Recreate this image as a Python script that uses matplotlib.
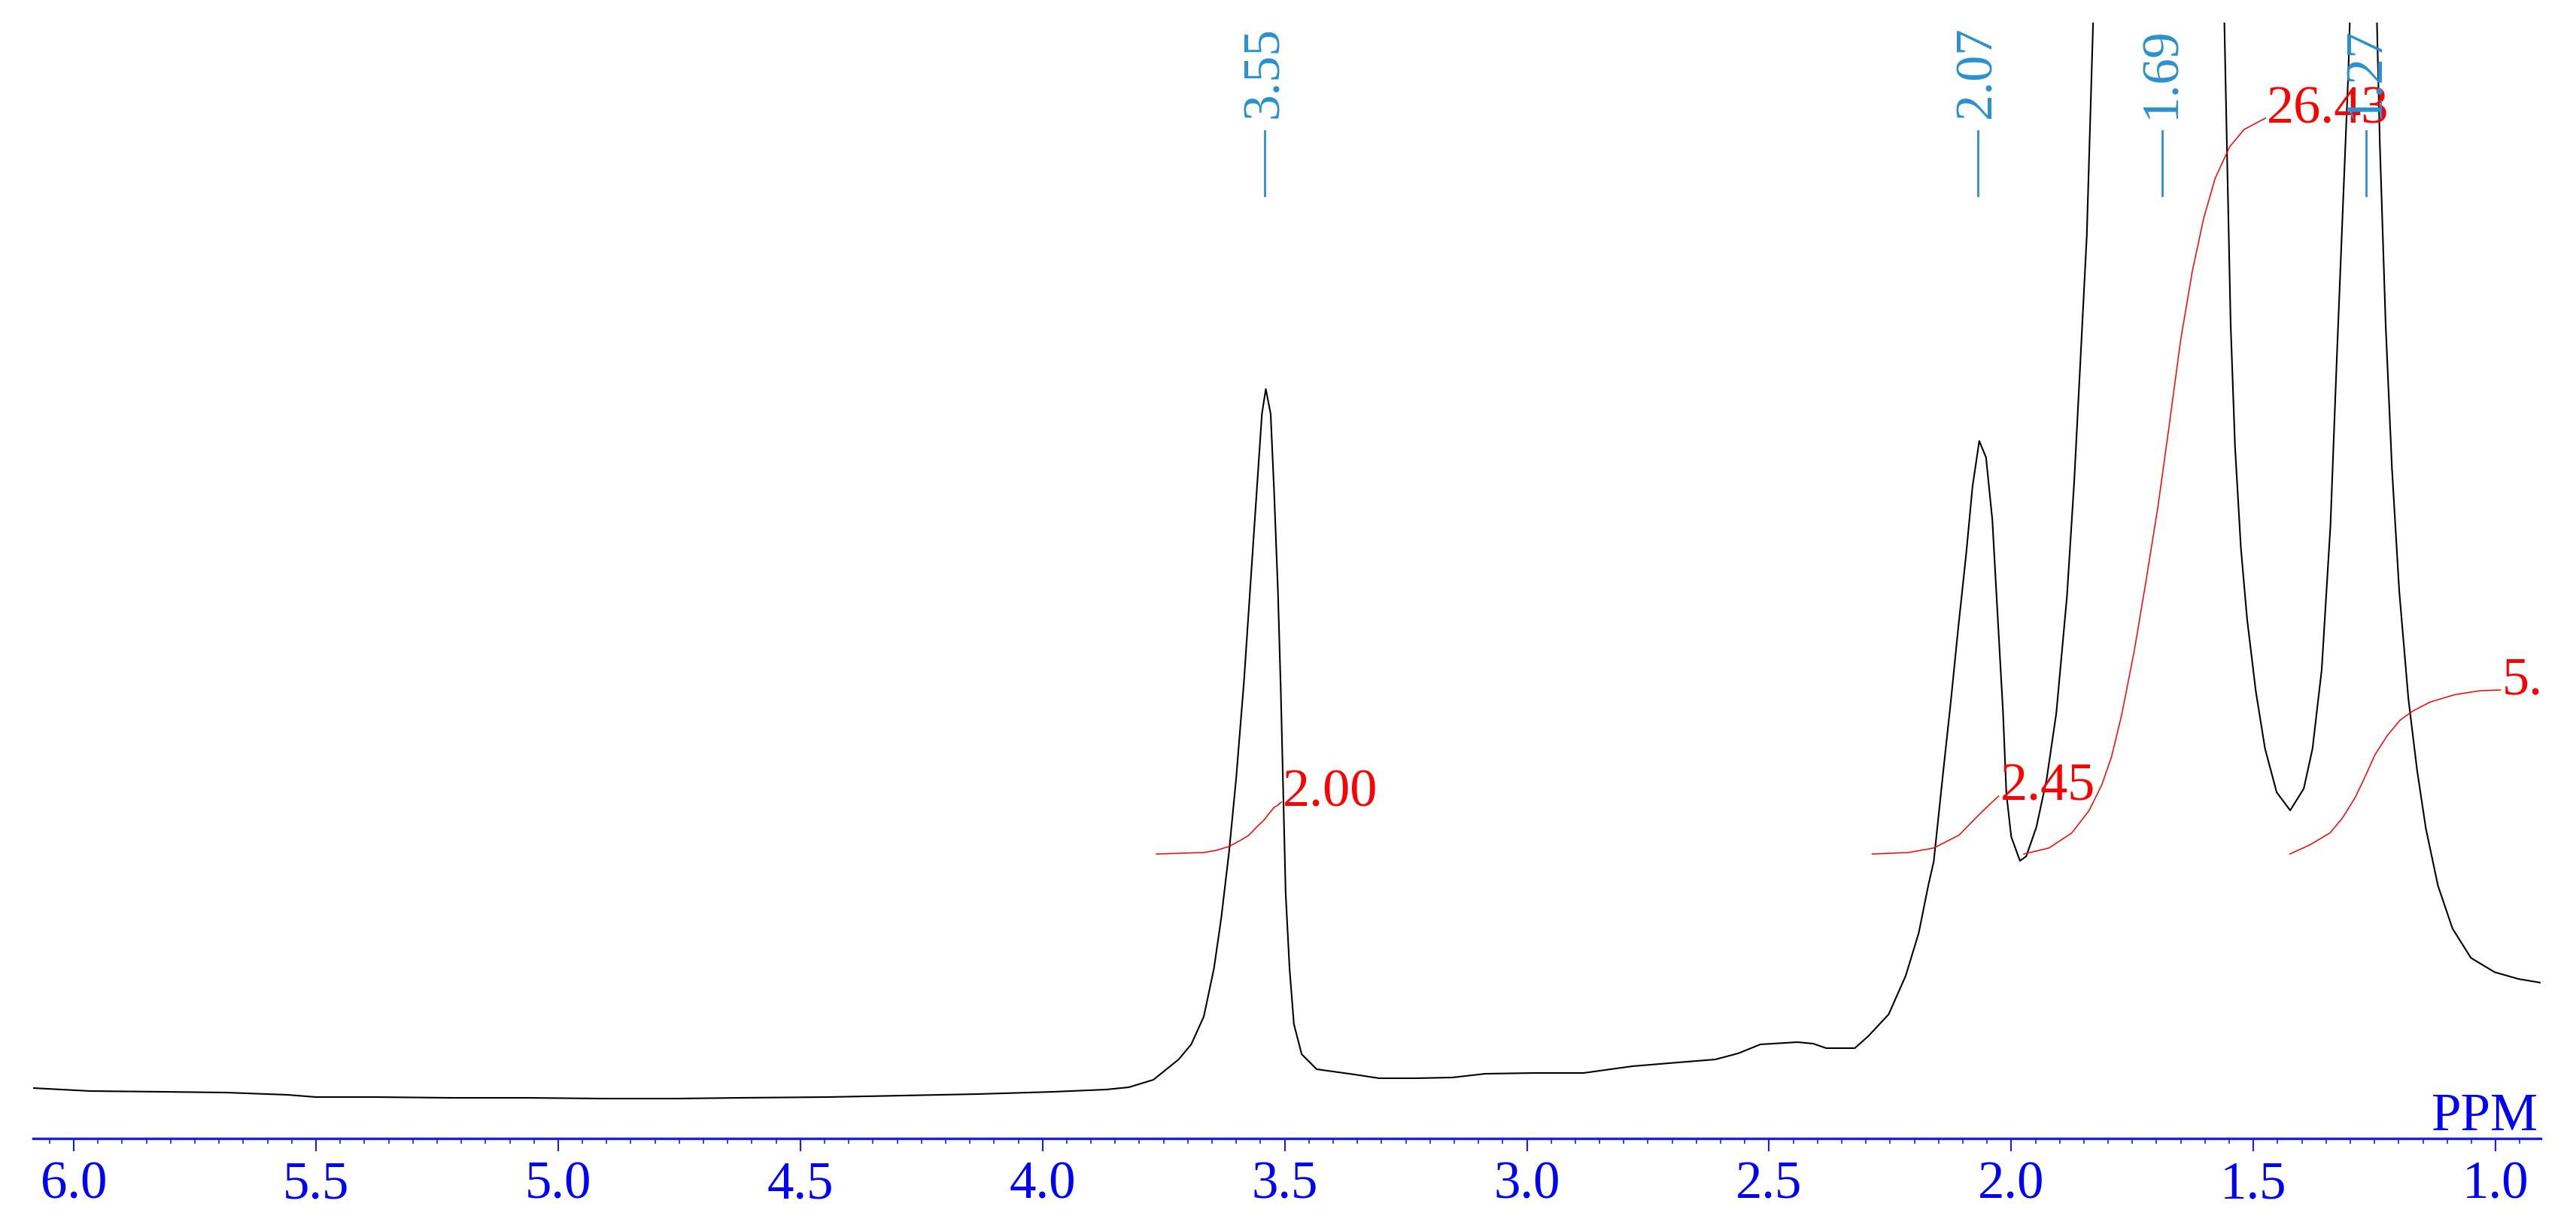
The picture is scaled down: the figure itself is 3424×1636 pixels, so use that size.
import matplotlib
matplotlib.use("Agg")
import matplotlib.pyplot as plt
from matplotlib.ticker import MultipleLocator, FormatStrFormatter
from matplotlib.transforms import ScaledTranslation

plt.rcParams['font.family'] = ['Liberation Serif', 'DejaVu Serif']

# ---------------- data ----------------
# 1H NMR spectrum: chemical shift (ppm) and intensity (a.u.)
spec_ppm = [6.084, 5.966, 5.814, 5.686, 5.559, 5.500, 5.376, 5.220, 5.065, 4.910,
            4.754, 4.625, 4.444, 4.288, 4.133, 3.978, 3.869, 3.822, 3.771, 3.719,
            3.693, 3.667, 3.646, 3.631, 3.615, 3.600, 3.584, 3.568, 3.554, 3.547,
            3.539, 3.529, 3.522, 3.514, 3.508, 3.503, 3.498, 3.490, 3.481, 3.465,
            3.434, 3.356, 3.305, 3.290, 3.232, 3.154, 3.086, 2.984, 2.883, 2.782,
            2.688, 2.611, 2.564, 2.518, 2.441, 2.409, 2.382, 2.358, 2.323, 2.295,
            2.253, 2.218, 2.191, 2.171, 2.160, 2.140, 2.125, 2.109, 2.093, 2.080,
            2.066, 2.052, 2.039, 2.028, 2.017, 2.010, 2.000, 1.982, 1.969, 1.948,
            1.927, 1.907, 1.885, 1.870, 1.858, 1.844, 1.831, 1.826, 1.695, 1.565,
            1.560, 1.553, 1.547, 1.538, 1.526, 1.513, 1.495, 1.476, 1.452, 1.424,
            1.396, 1.378, 1.359, 1.341, 1.328, 1.316, 1.304, 1.301, 1.297, 1.273,
            1.249, 1.245, 1.239, 1.227, 1.214, 1.199, 1.180, 1.162, 1.144, 1.119,
            1.089, 1.051, 1.002, 0.953, 0.907]
spec_int = [67, 63, 62, 61, 58, 55, 55, 54, 54, 53,
            53, 54, 55, 57, 59, 62, 65, 68, 78, 105,
            125, 162, 226, 293, 380, 480, 608, 762, 896, 963,
            996, 963, 862, 728, 594, 460, 326, 226, 152, 112,
            92, 85, 80, 80, 80, 81, 86, 87, 87, 96,
            101, 105, 113, 125, 128, 126, 120, 120, 120, 136,
            165, 216, 273, 337, 368, 490, 579, 681, 777, 866,
            927, 905, 822, 694, 567, 458, 401, 369, 375, 414,
            477, 565, 720, 873, 1023, 1200, 1482, 1600, 2600, 1600,
            1484, 1264, 1082, 920, 786, 690, 594, 518, 460, 436,
            465, 518, 623, 814, 1034, 1226, 1417, 1484, 1580, 2200,
            1580, 1484, 1322, 1082, 891, 728, 584, 489, 412, 336,
            279, 240, 221, 212, 207]

# integral curves
int1_ppm = [3.765, 3.667, 3.641, 3.615, 3.589, 3.574, 3.553, 3.543, 3.532, 3.522, 3.516, 3.507]
int1_val = [378, 380, 383, 388, 397, 403, 417, 423, 432, 440, 442, 447]
int2_ppm = [2.287, 2.212, 2.160, 2.108, 2.067, 2.046, 2.026]
int2_val = [378, 380, 386, 403, 430, 443, 455]
int3_ppm = [1.974, 1.922, 1.875, 1.839, 1.813, 1.793, 1.772, 1.746, 1.722, 1.697,
            1.674, 1.650, 1.626, 1.603, 1.579, 1.549, 1.519, 1.475]
int3_val = [378, 386, 406, 436, 470, 507, 563, 648, 740, 840,
            947, 1062, 1153, 1222, 1276, 1318, 1341, 1356]
int4_ppm = [1.425, 1.384, 1.342, 1.316, 1.290, 1.270, 1.249, 1.223, 1.197, 1.171,
            1.135, 1.083, 1.032, 0.990]
int4_val = [378, 390, 406, 426, 453, 480, 510, 536, 556, 568,
            580, 590, 595, 596]
int_labels = ["2.00", "2.45", "26.43", "5.94"]

# peak picking labels
peak_labels = ["3.55", "2.07", "1.69", "1.27"]
peak_pos = [3.541, 2.069, 1.689, 1.268]

# ---------------- figure ----------------
W, H = 3424, 1636
fig = plt.figure(figsize=(W / 100, H / 100), dpi=100)
left_px, right_px, top_px, axis_px = 44, 3377, 30, 1513
ax = fig.add_axes([left_px / W, (H - axis_px) / H,
                   (right_px - left_px) / W, (axis_px - top_px) / H])

ax.plot(spec_ppm, spec_int, color='black', lw=1.5, solid_joinstyle='round')

integrals = [(int1_ppm, int1_val), (int2_ppm, int2_val),
             (int3_ppm, int3_val), (int4_ppm, int4_val)]
red = '#ff0000'
for (p, v), lab in zip(integrals, int_labels):
    ax.plot(p, v, color=red, lw=1.1, solid_joinstyle='round')
    tr = ax.transData + ScaledTranslation(2 / 100, -6 / 100, fig.dpi_scale_trans)
    ax.text(p[-1], v[-1], lab, transform=tr, ha='left', va='baseline',
            color=red, fontsize=52, clip_on=True)

ax.set_xlim(6.084, 0.907)
ax.set_ylim(0, 1483)

blue_lab = '#2a90d0'
for pos, lab in zip(peak_pos, peak_labels):
    ax.plot([pos, pos], [1253, 1339], color=blue_lab, lw=2.0, clip_on=False)
    ax.text(pos, 1356, lab, rotation=90, ha='center', va='bottom',
            color=blue_lab, fontsize=50, clip_on=False)

# axis styling
for s in ['left', 'right', 'top']:
    ax.spines[s].set_visible(False)
ax.spines['bottom'].set_color('#1a1aff')
ax.spines['bottom'].set_linewidth(2.4)
ax.yaxis.set_visible(False)
ax.patch.set_alpha(0)
ax.xaxis.set_major_locator(MultipleLocator(0.5))
ax.xaxis.set_minor_locator(MultipleLocator(0.05))
ax.xaxis.set_major_formatter(FormatStrFormatter('%.1f'))
ax.tick_params(axis='x', which='major', direction='out', length=12, width=1.5,
               color='#1a1aff', labelcolor='#0000ff', labelsize=51, pad=9)
ax.tick_params(axis='x', which='minor', direction='out', length=5, width=1.2,
               color='#1a1aff')

ax.text(0.912, 11, 'PPM', ha='right', va='baseline', color='#0000ff', fontsize=51)

fig.savefig('out.png', dpi=100, facecolor='white')
